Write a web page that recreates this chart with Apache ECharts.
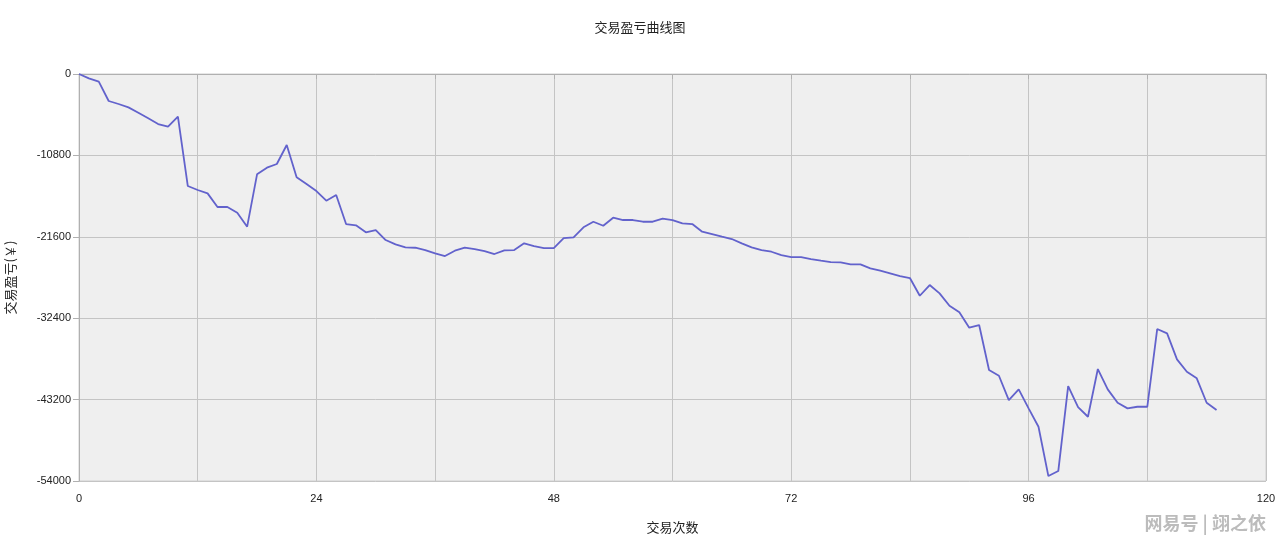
<!DOCTYPE html>
<html>
<head>
<meta charset="utf-8">
<script src="https://cdn.jsdelivr.net/npm/echarts@6/dist/echarts.min.js"></script>
<style>
html,body{margin:0;padding:0;background:#fff;}
#c{width:1280px;height:546px;}
</style>
</head>
<body>
<div id="c"></div>
<script>
var titleText = '交易盈亏曲线图';
var xName = '交易次数';
var yName = '交易盈亏(￥)';
var xTicks = [0, 24, 48, 72, 96, 120];
var yTicks = [0, -10800, -21600, -32400, -43200, -54000];
var profit = [
  0, -575, -1018, -3583, -3981, -4423, -5131, -5883, -6635, -6989,
  -5662, -14862, -15393, -15835, -17649, -17649, -18401, -20259, -13314, -12430,
  -11943, -9422, -13712, -14597, -15526, -16809, -16057, -19905, -20082, -21006,
  -20701, -22028, -22599, -22997, -23050, -23355, -23793, -24151, -23448, -23050,
  -23223, -23488, -23886, -23395, -23355, -22466, -22824, -23090, -23090, -21763,
  -21670, -20343, -19600, -20131, -19069, -19374, -19374, -19600, -19600, -19202,
  -19374, -19812, -19905, -20927, -21232, -21590, -21896, -22466, -22997, -23355,
  -23581, -24019, -24284, -24284, -24550, -24775, -24948, -24988, -25253, -25253,
  -25784, -26102, -26447, -26805, -27071, -29420, -27999, -29101, -30746, -31623,
  -33665, -33307, -39279, -40035, -43260, -41841, -44362, -46804, -53345, -52682,
  -41402, -44200, -45477, -39146, -41841, -43618, -44362, -44150, -44150, -33839,
  -34409, -37860, -39505, -40381, -43618, -44587
];
var seriesData = profit.map(function (v, i) { return [i, v]; });

var chart = echarts.init(document.getElementById('c'), null, {renderer: 'canvas'});
chart.setOption({
  animation: false,
  backgroundColor: '#ffffff',
  title: {
    text: titleText,
    left: 'center',
    top: 16,
    textStyle: {fontSize: 13, fontWeight: 'normal', color: '#222', fontFamily: 'Noto Sans CJK SC'}
  },
  grid: {
    left: 79, right: 14, top: 74, bottom: 65,
    containLabel: false,
    outerBoundsMode: 'none',
    show: true, backgroundColor: '#efefef', borderColor: '#cfcfcf', borderWidth: 1
  },
  xAxis: {
    type: 'value',
    min: 0, max: 120, interval: 12,
    name: xName,
    nameLocation: 'middle',
    nameGap: 40,
    nameTextStyle: {fontSize: 13, color: '#222', fontFamily: 'Noto Sans CJK SC'},
    axisLine: {show: true, lineStyle: {color: '#b0b0b0'}},
    axisTick: {show: true, length: 5, lineStyle: {color: '#b0b0b0'}},
    axisLabel: {
      color: '#222', fontSize: 11, fontFamily: 'Liberation Sans', margin: 12,
      formatter: function (v) { return xTicks.indexOf(v) >= 0 ? String(v) : ''; }
    },
    splitLine: {show: true, lineStyle: {color: '#c4c4c4', width: 1}}
  },
  yAxis: {
    type: 'value',
    min: -54000, max: 0, interval: 10800,
    name: yName,
    nameLocation: 'middle',
    nameGap: 62,
    nameRotate: 90,
    nameTextStyle: {fontSize: 13, color: '#222', fontFamily: 'Noto Sans CJK SC'},
    axisLine: {show: true, lineStyle: {color: '#b0b0b0'}},
    axisTick: {show: true, length: 6, lineStyle: {color: '#b0b0b0'}},
    axisLabel: {
      color: '#222', fontSize: 11, fontFamily: 'Liberation Sans', margin: 8,
      formatter: function (v) { return yTicks.indexOf(v) >= 0 ? String(v) : ''; }
    },
    splitLine: {show: true, lineStyle: {color: '#c4c4c4', width: 1}}
  },
  series: [{
    type: 'line',
    data: seriesData,
    showSymbol: false,
    symbol: 'none',
    lineStyle: {color: '#6262cc', width: 1.8},
    itemStyle: {color: '#6262cc'}
  }],
  graphic: [{
    type: 'text',
    right: 14,
    top: 514,
    style: {
      text: '网易号 | 翊之依',
      fill: '#bcbcbc',
      font: 'bold 18px "Noto Sans CJK SC"'
    }
  }]
});
</script>
</body>
</html>
